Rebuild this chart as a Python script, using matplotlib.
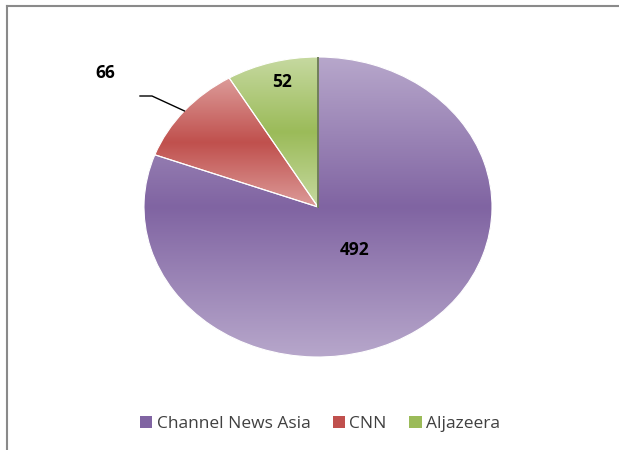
import numpy as np
import matplotlib
matplotlib.use('Agg')
import matplotlib.pyplot as plt
from matplotlib.colors import LinearSegmentedColormap
from matplotlib.lines import Line2D
from matplotlib.patches import Wedge

channels = ['Channel News Asia', 'CNN', 'Aljazeera']
counts = [492, 66, 52]
dark_colors = ['#8064A2', '#C0504D', '#9BBB59']
light_colors = ['#B7A7CB', '#DC9B99', '#C6D9A0']

plt.rcParams['font.family'] = ['Open Sans', 'DejaVu Sans']

fig = plt.figure(figsize=(6.19, 4.5), dpi=100)
# pie drawn in a stretched axes so it comes out as an ellipse like the original
ax = fig.add_axes([144 / 619, 93 / 450, 348 / 619, 300 / 450])

wedges, _ = ax.pie(counts, colors=dark_colors, startangle=90, counterclock=False,
                   wedgeprops=dict(edgecolor='white', linewidth=0.8))

# vertical light-dark-light shading inside each slice
for w, dc, lc in zip(wedges, dark_colors, light_colors):
    verts = w.get_path().vertices
    x0, x1 = verts[:, 0].min(), verts[:, 0].max()
    y0, y1 = verts[:, 1].min(), verts[:, 1].max()
    cmap = LinearSegmentedColormap.from_list('g', [lc, dc, lc])
    t = np.linspace(0, 1, 256).reshape(-1, 1)
    img = ax.imshow(t, cmap=cmap, extent=[x0, x1, y0, y1], aspect='auto',
                    origin='lower', zorder=w.get_zorder() + 0.1, interpolation='bilinear')
    img.set_clip_path(w)
    edge = Wedge(w.center, w.r, w.theta1, w.theta2, facecolor='none',
                 edgecolor='white', linewidth=0.8, zorder=w.get_zorder() + 0.2)
    ax.add_patch(edge)

ax.set_xlim(-1, 1)
ax.set_ylim(-1, 1)
ax.set_aspect('auto')
ax.axis('off')

# dark line on the Aljazeera / Channel News Asia border
ax.plot([0, 0], [0, 1], color='#5a6a40', linewidth=1.2, zorder=5)

# data labels
ax.text(0.213, -0.287, str(counts[0]), ha='center', va='center',
        fontsize=12.5, fontweight='bold', zorder=6)
ax.text(-0.207, 0.833, str(counts[2]), ha='center', va='center',
        fontsize=12.5, fontweight='bold', zorder=6)

mid = np.deg2rad((wedges[1].theta1 + wedges[1].theta2) / 2)
ex, ey = np.cos(mid), np.sin(mid)
ax.plot([-1.023, -0.954, ex], [0.74, 0.74, ey], color='black', linewidth=1,
        clip_on=False, zorder=6)
ax.text(-1.224, 0.893, str(counts[1]), ha='center', va='center',
        fontsize=12.5, fontweight='bold', zorder=6)

handles = [plt.Rectangle((0, 0), 1, 1, facecolor=c, edgecolor='none') for c in dark_colors]
fig.legend(handles, channels, loc='center', bbox_to_anchor=(320 / 619, 1 - 424 / 450),
           ncol=3, frameon=False, fontsize=12.5, handlelength=0.7, handleheight=0.7,
           handletextpad=0.25, columnspacing=1.3, labelcolor='#404040')

# chart frame, top and left edges visible
fig.add_artist(Line2D([7 / 619, 7 / 619], [0, 1 - 6 / 450], color='#8a8a8a', linewidth=1.5))
fig.add_artist(Line2D([7 / 619, 1], [1 - 6 / 450, 1 - 6 / 450], color='#8a8a8a', linewidth=1.5))

fig.savefig('out.png', dpi=100)
